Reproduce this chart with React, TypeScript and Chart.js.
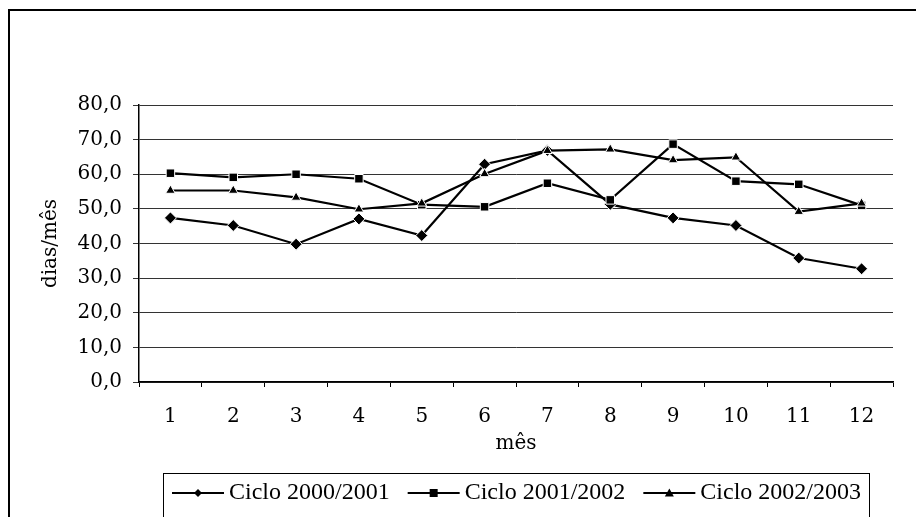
import { useEffect, useRef } from 'react';
import { Chart, registerables } from 'chart.js';

Chart.register(...registerables);

const months = ['1', '2', '3', '4', '5', '6', '7', '8', '9', '10', '11', '12'];
const ciclo20002001 = [47.4, 45.2, 39.8, 47.1, 42.3, 62.9, 66.9, 51.3, 47.4, 45.2, 35.8, 32.7];
const ciclo20012002 = [60.3, 59.1, 60.0, 58.7, 51.2, 50.6, 57.4, 52.6, 68.7, 58.0, 57.1, 51.0];
const ciclo20022003 = [55.3, 55.3, 53.3, 49.9, 51.6, 60.1, 66.8, 67.2, 64.1, 64.9, 49.2, 51.6];
const seriesNames = ['Ciclo 2000/2001', 'Ciclo 2001/2002', 'Ciclo 2002/2003'];
const yMin = 0;
const yMax = 80;
const yStep = 10;

const axisFont = { family: '"DejaVu Serif"', size: 20 };

function drawMarker(ctx: CanvasRenderingContext2D, style: string, x: number, y: number) {
  ctx.fillStyle = '#000';
  ctx.beginPath();
  if (style === 'rectRot') {
    const s = 4;
    ctx.moveTo(x - s, y);
    ctx.lineTo(x, y - s);
    ctx.lineTo(x + s, y);
    ctx.lineTo(x, y + s);
  } else if (style === 'rect') {
    ctx.rect(x - 4, y - 4, 8, 8);
  } else {
    ctx.moveTo(x, y - 4.5);
    ctx.lineTo(x + 4.5, y + 3.5);
    ctx.lineTo(x - 4.5, y + 3.5);
  }
  ctx.closePath();
  ctx.fill();
}

const frameAndLegend = {
  id: 'frameAndLegend',
  beforeDraw(chart: any) {
    const ctx = chart.ctx as CanvasRenderingContext2D;
    ctx.save();
    ctx.strokeStyle = '#000';
    ctx.lineWidth = 2;
    ctx.strokeRect(9, 10, 1200, 1200);
    ctx.restore();
  },
  afterDraw(chart: any) {
    const ctx = chart.ctx as CanvasRenderingContext2D;
    ctx.save();
    const bx = 163.5, by = 473.5, bw = 706, bh = 44;
    ctx.fillStyle = '#fff';
    ctx.fillRect(bx, by, bw, bh);
    ctx.strokeStyle = '#000';
    ctx.lineWidth = 1;
    ctx.strokeRect(bx, by, bw, bh);
    ctx.font = '24px "Liberation Serif"';
    ctx.textBaseline = 'middle';
    ctx.textAlign = 'left';
    const cy = 493;
    const lineW = 52, gap = 5, itemGap = 18;
    const items = chart.data.datasets.map((ds: any) => ({
      label: ds.label as string,
      style: ds.pointStyle as string,
      w: lineW + gap + ctx.measureText(ds.label).width,
    }));
    const total = items.reduce((a: number, it: any) => a + it.w, 0) + itemGap * (items.length - 1);
    let x = bx + bw / 2 - total / 2;
    for (const it of items) {
      ctx.strokeStyle = '#000';
      ctx.lineWidth = 2;
      ctx.beginPath();
      ctx.moveTo(x, cy);
      ctx.lineTo(x + lineW, cy);
      ctx.stroke();
      drawMarker(ctx, it.style, x + lineW / 2, cy);
      ctx.fillStyle = '#000';
      ctx.fillText(it.label, x + lineW + gap, cy);
      x += it.w + itemGap;
    }
    ctx.restore();
  },
};

export default function App() {
  const ref = useRef<HTMLCanvasElement | null>(null);

  useEffect(() => {
    if (!ref.current) return;
    const common = {
      borderColor: '#000',
      borderWidth: 2.2,
      pointBackgroundColor: '#000',
      pointBorderColor: '#fff',
      pointBorderWidth: 1,
      tension: 0,
      fill: false,
    };
    const chart = new Chart(ref.current, {
      type: 'line',
      data: {
        labels: months,
        datasets: [
          { ...common, label: seriesNames[0], data: ciclo20002001, pointStyle: 'rectRot', pointRadius: 6, order: 3 },
          { ...common, label: seriesNames[1], data: ciclo20012002, pointStyle: 'rect', pointRadius: 6, order: 2 },
          { ...common, label: seriesNames[2], data: ciclo20022003, pointStyle: 'triangle', pointRadius: 5.5, order: 1 },
        ],
      },
      options: {
        animation: false,
        responsive: false,
        maintainAspectRatio: false,
        layout: { padding: { left: 9, top: 105, right: 23, bottom: 61 } },
        plugins: {
          legend: { display: false },
          tooltip: { enabled: false },
          title: { display: false },
        },
        scales: {
          x: {
            type: 'category',
            offset: true,
            grid: { offset: true, drawOnChartArea: false, drawTicks: true, tickLength: 5, color: '#000', lineWidth: 1 },
            border: { display: true, color: '#000', width: 1.5 },
            ticks: { font: axisFont, color: '#000', padding: 18, maxRotation: 0, autoSkip: false },
            title: { display: true, text: 'mês', font: axisFont, color: '#000', padding: 0 },
            afterFit: (s: any) => { s.height = 74; },
          },
          y: {
            min: yMin,
            max: yMax,
            grid: { color: '#333', lineWidth: 1, drawTicks: true, tickLength: 6 },
            border: { display: true, color: '#000', width: 1.5 },
            ticks: {
              stepSize: yStep,
              font: axisFont,
              color: '#000',
              padding: 11,
              callback: (v: any) => Number(v).toFixed(1).replace('.', ','),
            },
            title: { display: true, text: 'dias/mês', font: axisFont, color: '#000', padding: { top: 30, bottom: 0 } },
            afterFit: (s: any) => { s.width = 130; },
          },
        },
      },
      plugins: [frameAndLegend],
    } as any);
    return () => chart.destroy();
  }, []);

  return (
    <div style={{ position: 'fixed', left: 0, top: 0, width: 916, height: 517, background: '#fff' }}>
      <canvas ref={ref} width={916} height={517} style={{ display: 'block', width: 916, height: 517 }} />
    </div>
  );
}
